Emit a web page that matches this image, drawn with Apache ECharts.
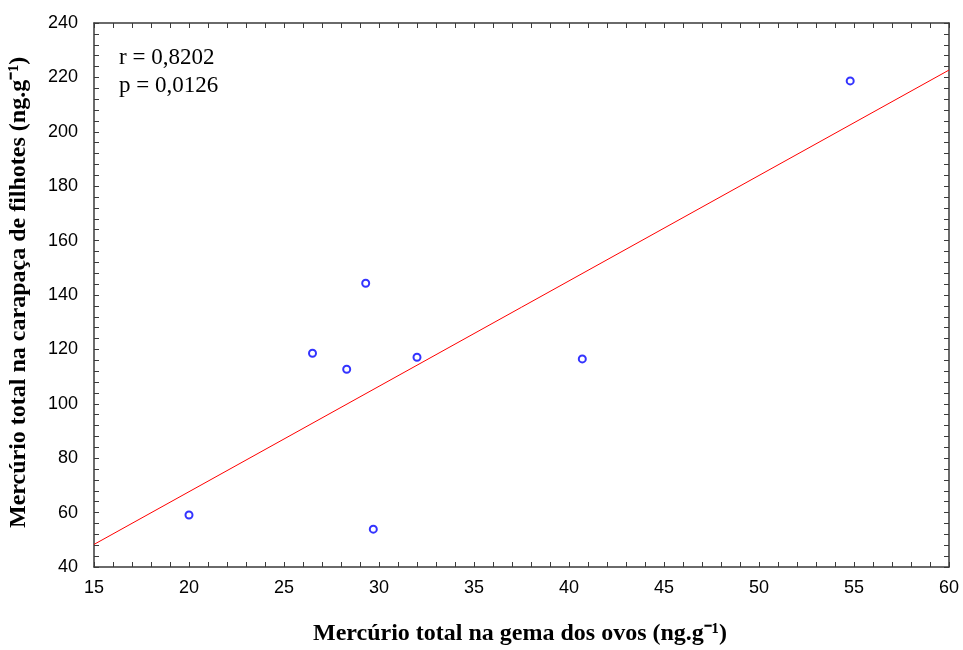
<!DOCTYPE html>
<html lang="pt">
<head>
<meta charset="utf-8">
<title>Mercúrio total</title>
<script src="https://cdn.jsdelivr.net/npm/echarts@6/dist/echarts.min.js"></script>
<style>
  html, body { margin: 0; padding: 0; background: #fff; }
  #main { width: 963px; height: 650px; }
</style>
</head>
<body>
<div id="main"></div>
<script>
// valores
var gemaX = [20.0, 26.5, 28.3, 29.3, 29.7, 32.0, 40.7, 54.8];
var carapacaY = [59.1, 118.6, 112.7, 144.3, 53.9, 117.1, 116.5, 218.7];
// reta de regressão (extremos lidos)
var retaX = [15, 60];
var retaY = [48.3, 222.7];
var xTicks = [15, 20, 25, 30, 35, 40, 45, 50, 55, 60];
var yTicks = [40, 60, 80, 100, 120, 140, 160, 180, 200, 220, 240];

var chart = echarts.init(document.getElementById('main'));

var axisColor = '#3a3a3a';
var tickFont = { fontFamily: 'Liberation Sans, Arial', fontSize: 18, color: '#000' };
var serif = '"Liberation Serif", "Times New Roman", serif';

function eixoX(pos, mostrarRotulo) {
  return {
    type: 'value', position: pos,
    min: xTicks[0], max: xTicks[xTicks.length - 1], interval: 5,
    axisLine: { show: true, onZero: false, lineStyle: { color: axisColor, width: 1.5 } },
    axisTick: { show: true, inside: true, length: 5, lineStyle: { color: axisColor } },
    minorTick: { show: true, splitNumber: 5, length: 5, lineStyle: { color: axisColor } },
    splitLine: { show: false },
    axisLabel: Object.assign({ show: mostrarRotulo, margin: 12 }, tickFont)
  };
}
function eixoY(pos, mostrarRotulo) {
  return {
    type: 'value', position: pos,
    min: yTicks[0], max: yTicks[yTicks.length - 1], interval: 20,
    axisLine: { show: true, onZero: false, lineStyle: { color: axisColor, width: 1.5 } },
    axisTick: { show: true, inside: true, length: 5, lineStyle: { color: axisColor } },
    minorTick: { show: true, splitNumber: 5, length: 5, lineStyle: { color: axisColor } },
    splitLine: { show: false },
    axisLabel: Object.assign({ show: mostrarRotulo, margin: 16 }, tickFont)
  };
}

var option = {
  backgroundColor: '#fff',
  animation: false,
  grid: { left: 94, right: 14, top: 23, bottom: 83 },
  xAxis: [eixoX('bottom', true), eixoX('top', false)],
  yAxis: [eixoY('left', true), eixoY('right', false)],
  graphic: [
    {
      type: 'text', left: 313, top: 622,
      style: { text: 'Mercúrio total na gema dos ovos (ng.g⁻¹)', font: 'bold 24px ' + serif, fill: '#000' }
    },
    {
      type: 'text', x: 7, y: 528, rotation: Math.PI / 2,
      style: { text: 'Mercúrio total na carapaça de filhotes (ng.g⁻¹)', font: 'bold 24px ' + serif, fill: '#000' }
    },
    {
      type: 'text', left: 119, top: 44,
      style: { text: 'r = 0,8202\np = 0,0126', font: '23px ' + serif, lineHeight: 28, fill: '#000' }
    }
  ],
  series: [
    {
      type: 'line',
      data: retaX.map(function (x, i) { return [x, retaY[i]]; }),
      showSymbol: false, silent: true,
      lineStyle: { color: '#ff0000', width: 1 },
      z: 2
    },
    {
      type: 'scatter',
      data: gemaX.map(function (x, i) { return [x, carapacaY[i]]; }),
      symbol: 'circle', symbolSize: 7,
      itemStyle: { color: '#fff', borderColor: '#0000ff', borderWidth: 2 },
      z: 3
    }
  ]
};
chart.setOption(option);
</script>
</body>
</html>
